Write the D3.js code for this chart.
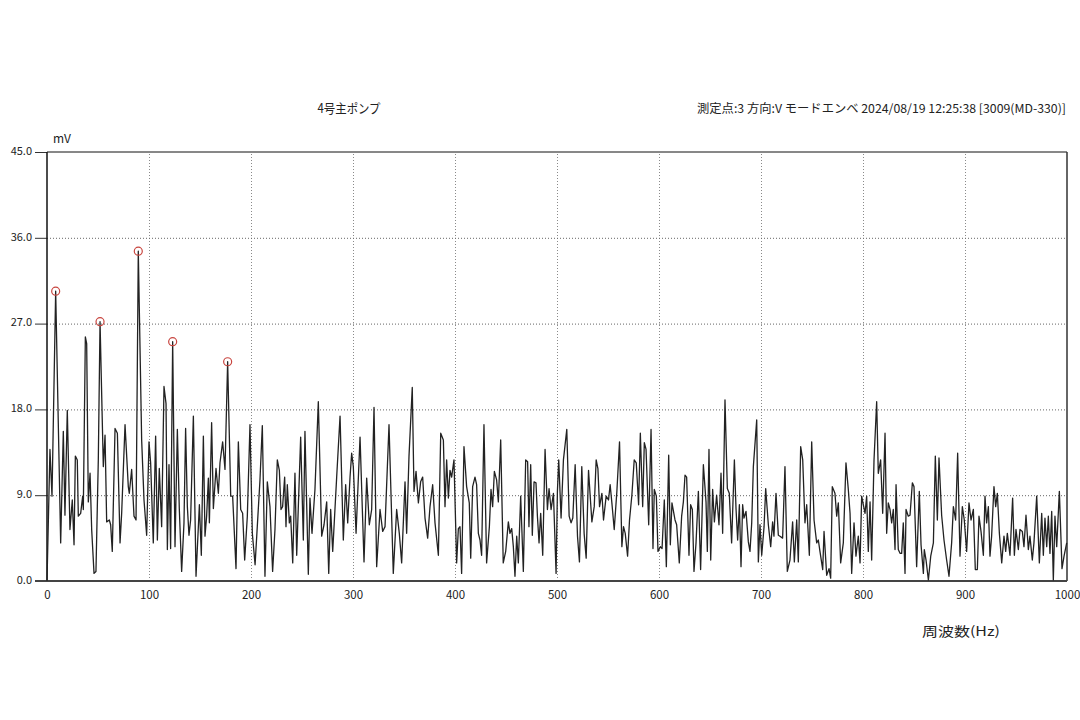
<!DOCTYPE html>
<html>
<head>
<meta charset="utf-8">
<script src="https://cdn.jsdelivr.net/npm/d3@7"></script>
<style>
  body { margin: 0; background: #fff; }
  text { font-family: "Noto Sans CJK JP", "DejaVu Sans", sans-serif; fill: #222; }
</style>
</head>
<body>
<svg id="chart" width="1080" height="720"></svg>
<script>
// spectrum, [Hz, mV] per vertex, split by band
const band0 = [
  [0,0],[2.9,13.8],[4.9,8.9],[8.5,30.4],[13.4,4.0],[16.0,15.7],[17.6,6.9],[19.9,17.9],[22.5,5.4],[24.8,8.5],
  [26.5,3.8],[27.8,13.1],[29.7,12.7],[30.7,6.8],[33.0,7.1],[35.0,8.9],[35.6,7.5],[37.6,25.6],[38.9,24.9],[40.5,8.3],
  [42.2,11.3],[43.8,5.4],[46.1,0.8],[48.0,1.0],[50.3,12.7],[52.0,27.2],[55.2,12.0],[56.9,15.3],[58.5,6.2],[61.1,6.4],
  [62.4,5.9],[64.0,3.1],[66.7,16.0],[69.0,15.5],[71.6,4.0],[73.2,7.1],[76.5,16.4],[79.7,9.9],[80.7,9.2],[83.0,11.7],
  [85.3,6.8],[87.3,6.4],[89.5,34.6],[92.8,14.8],[95.1,8.5],[97.7,4.8],[100.0,14.6],[101.6,12.4],[104.2,4.0],[106.5,15.2],
  [108.2,4.3],[110.1,11.8],[112.4,5.7],[114.7,20.4],[116.7,18.6],[118.0,3.3],[119.6,12.2],[121.2,3.4],[123.2,25.1],[125.5,3.6],
  [127.8,15.9],[129.7,7.6],[132.0,1.0],[134.3,6.1],[135.9,16.0],[137.6,7.8],[139.2,4.8],[140.8,6.4],[143.5,17.3],[146.1,0.5],
  [149.4,8.0],[151.3,2.7],[153.3,15.2],[154.9,4.7],[156.5,6.8],[158.2,10.8],[159.2,6.1],[161.4,16.6],[163.1,7.6],[165.7,11.8],
  [168.0,9.2],[169.6,12.4],[172.2,14.6],[174.5,11.7],[177.1,23.0],[180.1,8.9],[182.0,8.9],[185.3,1.3],[187.6,14.6],[189.9,7.5],
  [191.8,7.1],[193.8,2.2],[196.4,6.8],[199.0,16.4],[201.3,5.0],[204.0,1.7]
];
const band1 = [
  [208.8,10.6],[211.1,16.3],[213.7,0.5],[216.0,10.4],[218.6,7.8],[221.2,1.0],[223.5,5.4],[225.8,12.7],[227.8,11.6],[229.4,7.5],
  [231.0,7.8],[233.0,10.9],[234.3,5.7],[235.6,10.1],[237.6,6.1],[238.9,6.8],[240.9,1.9],[243.1,11.3],[244.8,2.7],[248.7,15.1],
  [251.3,4.3],[252.9,15.7],[256.2,0.7],[257.8,8.7],[259.8,5.0],[262.7,9.6],[266.0,18.8],[269.3,4.7],[271.6,5.9],[274.2,8.3],
  [276.2,0.8],[278.1,7.5],[280.1,3.1],[284.0,10.9],[287.3,17.3],[290.5,4.3],[292.8,10.1],[294.8,6.1],[297.1,10.9],[298.7,13.4],
  [300.3,12.0],[303.0,5.0],[306.9,15.1],[310.8,2.0],[313.4,10.8],[316.0,5.9],[318.3,7.5],[320.6,18.2],[323.2,1.5],[326.5,7.5],
  [329.1,5.2],[331.4,5.7],[335.3,16.4],[339.5,0.8],[342.8,7.5],[345.4,5.0],[347.7,1.9],[351.0,10.4],[352.6,5.0],[354.9,13.1],
  [358.1,20.3],[359.8,9.4],[361.8,11.5],[364.1,8.2],[366.3,10.4],[368.3,10.9],[370.6,6.6],[373.2,4.5],[375.5,7.8],[378.1,10.1],
  [380.4,6.1],[383.7,2.7],[386.0,15.5],[388.6,14.8],[390.2,7.8],[391.8,12.7],[393.5,8.7],[395.1,11.6],[396.7,10.9],[399.0,12.7],
  [401.6,1.9],[403.3,5.5]
];
const band2 = [
  [404.9,5.7],[406.5,0.8],[408.8,14.1],[411.4,9.9],[414.0,8.2],[415.4,2.4],[417.3,9.9],[419.6,10.9],[421.2,10.1],[422.9,5.0],
  [424.5,4.3],[426.1,2.7],[428.4,16.4],[431.0,1.9],[433.7,5.7],[435.3,9.6],[436.9,7.8],[438.6,11.5],[440.8,10.6],[442.5,8.3],
  [444.8,14.8],[447.3,1.9],[449.7,3.1],[452.3,6.2],[453.9,5.0],[455.6,5.5],[457.2,3.6],[458.8,0.5],[460.5,4.7],[462.1,1.9],
  [464.4,8.9],[467.0,1.0],[469.3,12.7],[471.2,12.5],[472.5,5.7],[474.2,12.2],[475.8,4.8],[477.5,10.4],[479.4,10.3],[480.8,6.8],
  [482.4,4.0],[484.0,7.1],[486.0,2.7],[488.3,13.8],[490.6,7.5],[492.2,9.7],[494.2,7.5],[496.5,9.2],[499.1,0.8],[500.4,9.4],
  [501.7,12.7],[504.0,6.6],[506.3,12.7],[509.6,15.9],[511.9,6.8],[513.8,6.1],[515.5,6.6],[517.8,12.2],[520.1,4.7],[522.0,2.0],
  [524.3,12.0],[526.6,5.0],[528.6,2.4],[530.9,11.6],[534.2,6.2],[536.5,7.8],[538.4,12.7],[540.1,11.8],[541.7,7.8],[544.0,9.2],
  [545.6,6.4],[548.2,8.9],[550.5,8.5],[552.1,10.1],[553.8,8.2],[556.1,5.4],[558.7,9.4],[561.3,14.6],[563.6,3.6],[565.2,5.7],
  [566.9,5.0],[569.2,2.6],[571.1,6.4],[573.4,9.0],[575.7,12.7],[577.7,12.4],[580.0,8.0],[581.7,15.5],[584.0,7.8],[585.6,14.5],
  [587.3,13.8],[589.9,5.9],[592.2,15.9],[594.1,3.4],[595.4,9.6],[597.4,8.9],[599.0,3.1],[601.3,3.6],[603.0,3.4],[605.2,8.5],
  [607.2,1.5],[609.5,13.2],[611.1,3.8],[612.7,8.2]
];
const band3 = [
  [615.7,6.4],[617.3,5.9],[619.9,1.9],[622.2,6.8],[623.9,8.3],[625.5,11.1],[627.1,10.9],[629.4,2.7],[631.0,8.0],[632.7,7.5],
  [634.3,1.0],[636.3,4.0],[638.6,9.4],[640.8,1.2],[643.5,12.2],[646.1,8.3],[647.4,3.1],[649.0,13.8],[650.7,2.2],[652.6,9.6],
  [654.3,6.2],[656.5,9.0],[658.8,5.9],[660.8,11.3],[662.4,5.0],[664.7,19.0],[667.0,9.7],[668.9,9.2],[671.2,4.0],[673.9,12.7],
  [675.5,7.6],[677.1,4.3],[678.8,8.0],[680.4,1.5],[682.0,8.0],[683.3,6.6],[685.3,7.3],[687.6,4.1],[689.2,3.1],[690.9,6.1],
  [692.5,12.0],[695.8,16.9],[697.4,2.0],[699.0,5.9],[700.7,2.7],[703.0,5.7],[704.6,9.7],[707.2,5.9],[709.5,3.6],[711.4,6.2],
  [712.7,4.7],[714.7,9.2],[717.0,4.8],[718.6,4.7],[721.2,4.5],[723.5,12.0],[725.8,1.0],[728.4,2.2],[731.0,6.2],[732.7,2.0],
  [735.0,6.4],[736.6,2.0],[738.9,14.1],[740.9,12.7],[743.1,6.1],[744.8,8.0],[747.4,2.7],[749.7,14.6],[752.0,6.4],[754.6,4.0],
  [756.2,4.3],[757.8,3.1],[760.5,1.2],[761.8,5.2],[764.4,0.6],[766.7,1.3],[768.3,0.3],[769.9,9.9],[772.5,9.2],[774.2,6.8],
  [775.8,8.2],[778.1,1.9],[780.7,4.0],[783.3,12.4],[785.6,9.6],[787.3,7.1],[788.9,0.8],[791.2,6.1],[793.1,2.6],[795.4,4.7],
  [797.1,1.9],[798.7,8.9],[800.3,8.0],[802.0,7.1],[803.6,8.9],[805.2,3.1],[806.9,8.3],[808.5,2.2],[810.8,12.7],[813.4,18.8]
];
const band4 = [
  [815.0,11.3],[817.3,12.7],[819.3,7.1],[821.6,15.5],[823.2,5.0],[824.8,8.2],[826.5,7.5],[828.1,6.1],[829.7,7.5],[831.4,3.3],
  [832.4,10.1],[834.6,3.3],[836.3,2.9],[837.9,2.9],[839.5,6.1],[841.2,0.8],[842.2,7.5],[844.4,6.8],[846.1,6.9],[848.4,10.3],
  [850.0,9.9],[852.6,1.5],[855.2,9.4],[856.9,3.8],[859.2,0.8],[860.1,3.3],[861.8,2.2],[864.1,0.1],[866.4,2.6],[869.0,4.0],
  [870.9,13.1],[872.9,6.4],[874.5,12.9],[877.1,6.9],[879.4,4.3],[882.0,2.2],[884.3,0.5],[886.9,4.0],[888.6,7.8],[890.8,6.4],
  [892.8,13.4],[895.1,2.6],[897.4,7.8],[899.3,6.4],[901.6,3.1],[903.9,8.2],[905.9,6.4],[908.2,7.5],[910.1,1.2],[912.1,1.2],
  [913.7,6.8],[915.7,5.2],[918.0,2.7],[919.6,8.9],[921.2,6.1],[922.9,7.8],[924.5,2.6],[926.1,4.7],[928.4,9.9],[930.1,7.8],
  [931.7,9.2],[933.7,5.0],[936.0,1.9],[938.2,4.7],[939.9,3.1],[941.5,5.0],[944.1,2.7],[946.7,8.7],[948.4,2.7],[950.0,5.4],
  [952.3,3.3],[953.9,5.4],[956.2,5.2],[957.8,3.6],[959.8,6.9],[962.1,3.3],[963.7,4.7],[966.0,2.2],[967.6,4.0],[970.3,8.9],
  [972.9,1.9],[975.2,7.1],[976.8,2.7],[978.4,6.6],[980.1,3.6],[981.7,6.8],[983.3,2.9],[985.0,7.3],[986.6,0.1],[988.2,6.8],
  [989.9,3.6],[992.5,9.4],[995.1,1.3],[997.1,2.6],[999.7,4.0]
];

// marked peaks (red circles)
const peakHz = [8.5, 52.0, 89.5, 123.2, 177.1];
const peakMv = [30.4, 27.2, 34.6, 25.1, 23.0];

const xTicks = [0, 100, 200, 300, 400, 500, 600, 700, 800, 900, 1000];
const yTicks = [0, 9, 18, 27, 36, 45];

const titleLeft = "4号主ポンプ";
const titleRight = "測定点:3 方向:V モードエンベ 2024/08/19 12:25:38 [3009(MD-330)]";
const yUnit = "mV";
const xName = "周波数(Hz)";

const spectrum = band0.concat(band1, band2, band3, band4);

const plotL = 47, plotR = 1067, plotT = 152, plotB = 581;
const svg = d3.select("#chart");

let x = d3.scaleLinear().domain([0, 1000]).range([plotL, plotR]);
let y = d3.scaleLinear().domain([0, 45]).range([plotB, plotT]);

// grid
svg.append("g")
    .attr("transform", "translate(0," + plotB + ")")
    .call(d3.axisBottom(x).tickValues(xTicks.slice(1, -1)).tickSize(-(plotB - plotT)).tickFormat(""))
    .call(g => g.select(".domain").remove())
    .selectAll("line")
    .attr("stroke", "#8a8a8a")
    .attr("stroke-dasharray", "1,2");

svg.append("g")
    .attr("transform", "translate(" + plotL + ",0)")
    .call(d3.axisLeft(y).tickValues(yTicks.slice(1, -1)).tickSize(-(plotR - plotL)).tickFormat(""))
    .call(g => g.select(".domain").remove())
    .selectAll("line")
    .attr("stroke", "#666")
    .attr("stroke-dasharray", "1,2");

// y axis labels with short ticks
let yAxis = svg.append("g")
    .attr("transform", "translate(" + plotL + ",0)")
    .call(d3.axisLeft(y).tickValues(yTicks).tickSize(12).tickPadding(3).tickFormat(d3.format(".1f")));
yAxis.select(".domain").remove();
yAxis.selectAll("line").attr("stroke", "#333");
yAxis.selectAll("text")
    .attr("dy", "0.2em")
    .style("font-size", "11px")
    .attr("fill", "#222");

// x axis labels
let xAxis = svg.append("g")
    .attr("transform", "translate(0," + plotB + ")")
    .call(d3.axisBottom(x).tickValues(xTicks).tickSize(0).tickPadding(10).tickFormat(d3.format("d")));
xAxis.select(".domain").remove();
xAxis.selectAll("text")
    .style("font-size", "11.5px")
    .attr("fill", "#222");

// frame
svg.append("line").attr("x1", plotL).attr("x2", plotR).attr("y1", plotT).attr("y2", plotT)
    .attr("stroke", "#111").attr("stroke-width", 1);
svg.append("line").attr("x1", plotR).attr("x2", plotR).attr("y1", plotT).attr("y2", plotB)
    .attr("stroke", "#333").attr("stroke-width", 1.5);
svg.append("line").attr("x1", plotL).attr("x2", plotL).attr("y1", plotT).attr("y2", plotB)
    .attr("stroke", "#111").attr("stroke-width", 1.5);
svg.append("line").attr("x1", 35).attr("x2", plotR).attr("y1", plotB).attr("y2", plotB)
    .attr("stroke", "#444").attr("stroke-width", 2.2);

// spectrum line
let line = d3.line()
    .x(d => x(d[0]))
    .y(d => y(d[1]));

svg.append("path")
    .datum(spectrum)
    .attr("d", line)
    .attr("fill", "none")
    .attr("stroke", "#222")
    .attr("stroke-width", 1.3)
    .attr("stroke-linejoin", "round");

// peak markers
svg.append("g")
    .selectAll("circle")
    .data(peakHz)
    .enter().append("circle")
    .attr("cx", d => x(d))
    .attr("cy", (d, i) => y(peakMv[i]))
    .attr("r", 4)
    .attr("fill", "none")
    .attr("stroke", "#c8453f")
    .attr("stroke-width", 1.2);

// texts
svg.append("text").attr("x", 349).attr("y", 113)
    .attr("text-anchor", "middle")
    .attr("textLength", 63).attr("lengthAdjust", "spacingAndGlyphs")
    .style("font-size", "13px").text(titleLeft);
svg.append("text").attr("x", 1066).attr("y", 113)
    .attr("text-anchor", "end")
    .attr("textLength", 369).attr("lengthAdjust", "spacingAndGlyphs")
    .style("font-size", "12px").text(titleRight);
svg.append("text").attr("x", 53).attr("y", 143)
    .style("font-size", "12px").text(yUnit);
svg.append("text").attr("x", 922).attr("y", 636)
    .attr("textLength", 78).attr("lengthAdjust", "spacingAndGlyphs")
    .style("font-size", "13px").text(xName);
</script>
</body>
</html>
